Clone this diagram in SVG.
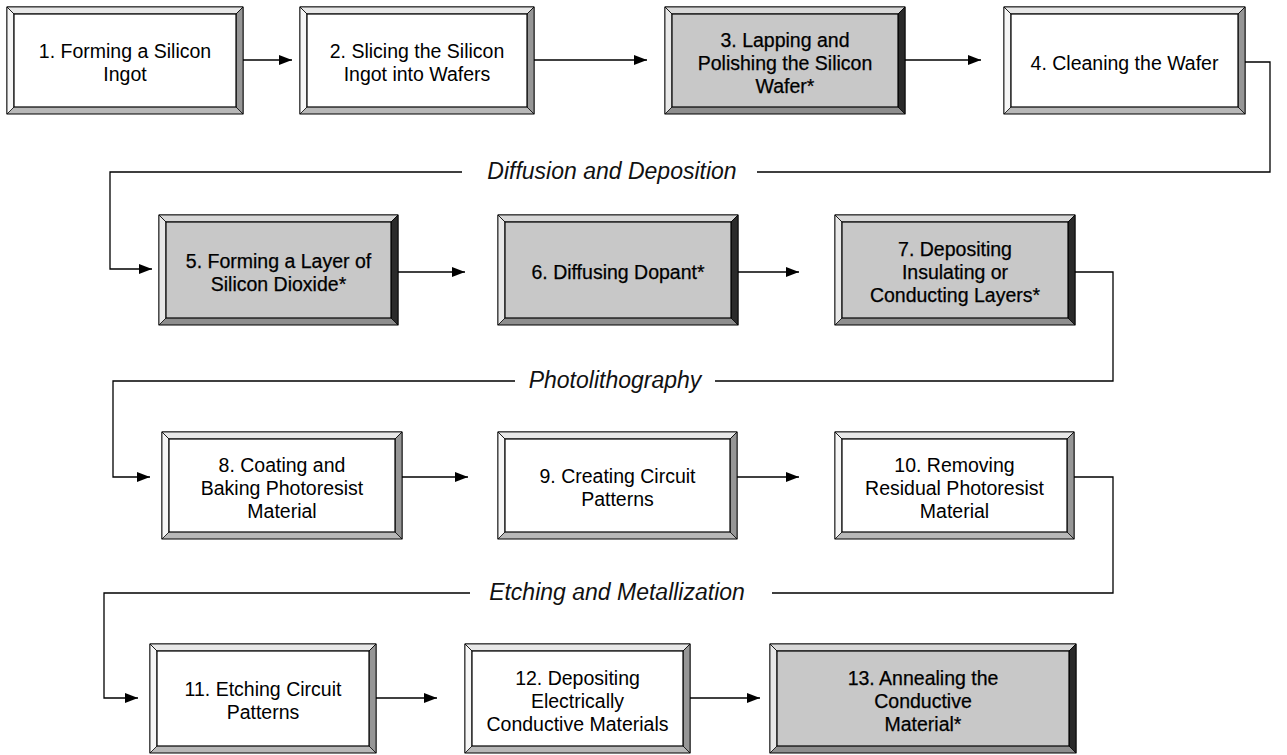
<svg xmlns="http://www.w3.org/2000/svg" width="1287" height="755" viewBox="0 0 1287 755">
<defs>
<marker id="arr" markerUnits="userSpaceOnUse" markerWidth="14" markerHeight="12" refX="13" refY="5" orient="auto"><path d="M0,0 L13,5 L0,10 z" fill="#000"/></marker>
<style>
.bg{fill:#fff}
.ob{stroke:#000;stroke-width:1}
.p .bot{fill:#b8b8b8}.p .top{fill:#e8e8e8}.p .lft{fill:#f6f6f6}.p .rgt{fill:#969696}.p .face{fill:#fff}
.s .bot{fill:#8e8e8e}.s .top{fill:#d8d8d8}.s .lft{fill:#e8e8e8}.s .rgt{fill:#2a2a2a}.s .face{fill:#c8c8c8}
.bev{stroke:#000;stroke-width:0.8;stroke-linejoin:miter}
.face{stroke:#000;stroke-width:1.2}
.t{font-family:"Liberation Sans",Arial,sans-serif;font-size:19.5px;fill:#000;text-anchor:middle}
.s .t{stroke:#000;stroke-width:0.25}
.lbl{font-family:"Liberation Sans",Arial,sans-serif;font-size:23px;font-style:italic;fill:#111;text-anchor:middle}
.c{fill:none;stroke:#000;stroke-width:1.3}
</style>
</defs>
<rect class="bg" x="0" y="0" width="1287" height="755"/>

<g id="connectors">
<path class="c" d="M243,60 H292" marker-end="url(#arr)"/>
<path class="c" d="M534,60 H647" marker-end="url(#arr)"/>
<path class="c" d="M905,60 H981" marker-end="url(#arr)"/>
<path class="c" d="M1245,62 H1270 V172 H757"/>
<path class="c" d="M462,172 H110 V269 H152" marker-end="url(#arr)"/>
<path class="c" d="M398,272 H465" marker-end="url(#arr)"/>
<path class="c" d="M738,272 H799" marker-end="url(#arr)"/>
<path class="c" d="M1075,272 H1113 V381 H715"/>
<path class="c" d="M515,381 H113 V477 H150" marker-end="url(#arr)"/>
<path class="c" d="M402,477 H468" marker-end="url(#arr)"/>
<path class="c" d="M737,477 H799" marker-end="url(#arr)"/>
<path class="c" d="M1074,477 H1113 V593 H772"/>
<path class="c" d="M470,593 H104 V698 H138" marker-end="url(#arr)"/>
<path class="c" d="M376,698 H437" marker-end="url(#arr)"/>
<path class="c" d="M690,698 H760" marker-end="url(#arr)"/>
<text class="lbl" x="612" y="179">Diffusion and Deposition</text>
<text class="lbl" x="615" y="388">Photolithography</text>
<text class="lbl" x="617" y="600">Etching and Metallization</text>
</g>

<g id="n1" class="p">
<rect class="bot ob" x="7" y="7" width="236" height="107"/>
<polygon class="top bev" points="7,7 243,7 236,14 14,14"/>
<polygon class="lft bev" points="7,7 14,14 14,107 7,114"/>
<polygon class="rgt bev" points="243,7 243,114 236,107 236,14"/>
<rect class="face" x="14" y="14" width="222" height="93"/>
<text class="t" x="125" y="58">1. Forming a Silicon</text>
<text class="t" x="125" y="81">Ingot</text>
</g>
<g id="n2" class="p">
<rect class="bot ob" x="300" y="7" width="234" height="107"/>
<polygon class="top bev" points="300,7 534,7 527,14 307,14"/>
<polygon class="lft bev" points="300,7 307,14 307,107 300,114"/>
<polygon class="rgt bev" points="534,7 534,114 527,107 527,14"/>
<rect class="face" x="307" y="14" width="220" height="93"/>
<text class="t" x="417" y="58">2. Slicing the Silicon</text>
<text class="t" x="417" y="81">Ingot into Wafers</text>
</g>
<g id="n3" class="s">
<rect class="bot ob" x="665" y="7" width="240" height="107"/>
<polygon class="top bev" points="665,7 905,7 898,14 672,14"/>
<polygon class="lft bev" points="665,7 672,14 672,107 665,114"/>
<polygon class="rgt bev" points="905,7 905,114 898,107 898,14"/>
<rect class="face" x="672" y="14" width="226" height="93"/>
<text class="t" x="785" y="46.5">3. Lapping and</text>
<text class="t" x="785" y="69.5">Polishing the Silicon</text>
<text class="t" x="785" y="92.5">Wafer*</text>
</g>
<g id="n4" class="p">
<rect class="bot ob" x="1004" y="7" width="241" height="107"/>
<polygon class="top bev" points="1004,7 1245,7 1238,14 1011,14"/>
<polygon class="lft bev" points="1004,7 1011,14 1011,107 1004,114"/>
<polygon class="rgt bev" points="1245,7 1245,114 1238,107 1238,14"/>
<rect class="face" x="1011" y="14" width="227" height="93"/>
<text class="t" x="1124.5" y="69.5">4. Cleaning the Wafer</text>
</g>

<g id="n5" class="s">
<rect class="bot ob" x="159" y="215" width="239" height="110"/>
<polygon class="top bev" points="159,215 398,215 391,222 166,222"/>
<polygon class="lft bev" points="159,215 166,222 166,318 159,325"/>
<polygon class="rgt bev" points="398,215 398,325 391,318 391,222"/>
<rect class="face" x="166" y="222" width="225" height="96"/>
<text class="t" x="278.5" y="267.5">5. Forming a Layer of</text>
<text class="t" x="278.5" y="290.5">Silicon Dioxide*</text>
</g>
<g id="n6" class="s">
<rect class="bot ob" x="498" y="215" width="240" height="110"/>
<polygon class="top bev" points="498,215 738,215 731,222 505,222"/>
<polygon class="lft bev" points="498,215 505,222 505,318 498,325"/>
<polygon class="rgt bev" points="738,215 738,325 731,318 731,222"/>
<rect class="face" x="505" y="222" width="226" height="96"/>
<text class="t" x="618" y="279">6. Diffusing Dopant*</text>
</g>
<g id="n7" class="s">
<rect class="bot ob" x="835" y="215" width="240" height="110"/>
<polygon class="top bev" points="835,215 1075,215 1068,222 842,222"/>
<polygon class="lft bev" points="835,215 842,222 842,318 835,325"/>
<polygon class="rgt bev" points="1075,215 1075,325 1068,318 1068,222"/>
<rect class="face" x="842" y="222" width="226" height="96"/>
<text class="t" x="955" y="256">7. Depositing</text>
<text class="t" x="955" y="279">Insulating or</text>
<text class="t" x="955" y="302">Conducting Layers*</text>
</g>

<g id="n8" class="p">
<rect class="bot ob" x="162" y="432" width="240" height="107"/>
<polygon class="top bev" points="162,432 402,432 395,439 169,439"/>
<polygon class="lft bev" points="162,432 169,439 169,532 162,539"/>
<polygon class="rgt bev" points="402,432 402,539 395,532 395,439"/>
<rect class="face" x="169" y="439" width="226" height="93"/>
<text class="t" x="282" y="471.5">8. Coating and</text>
<text class="t" x="282" y="494.5">Baking Photoresist</text>
<text class="t" x="282" y="517.5">Material</text>
</g>
<g id="n9" class="p">
<rect class="bot ob" x="498" y="432" width="239" height="107"/>
<polygon class="top bev" points="498,432 737,432 730,439 505,439"/>
<polygon class="lft bev" points="498,432 505,439 505,532 498,539"/>
<polygon class="rgt bev" points="737,432 737,539 730,532 730,439"/>
<rect class="face" x="505" y="439" width="225" height="93"/>
<text class="t" x="617.5" y="483">9. Creating Circuit</text>
<text class="t" x="617.5" y="506">Patterns</text>
</g>
<g id="n10" class="p">
<rect class="bot ob" x="835" y="432" width="239" height="107"/>
<polygon class="top bev" points="835,432 1074,432 1067,439 842,439"/>
<polygon class="lft bev" points="835,432 842,439 842,532 835,539"/>
<polygon class="rgt bev" points="1074,432 1074,539 1067,532 1067,439"/>
<rect class="face" x="842" y="439" width="225" height="93"/>
<text class="t" x="954.5" y="471.5">10. Removing</text>
<text class="t" x="954.5" y="494.5">Residual Photoresist</text>
<text class="t" x="954.5" y="517.5">Material</text>
</g>

<g id="n11" class="p">
<rect class="bot ob" x="150" y="644" width="226" height="109"/>
<polygon class="top bev" points="150,644 376,644 369,651 157,651"/>
<polygon class="lft bev" points="150,644 157,651 157,746 150,753"/>
<polygon class="rgt bev" points="376,644 376,753 369,746 369,651"/>
<rect class="face" x="157" y="651" width="212" height="95"/>
<text class="t" x="263" y="696">11. Etching Circuit</text>
<text class="t" x="263" y="719">Patterns</text>
</g>
<g id="n12" class="p">
<rect class="bot ob" x="465" y="644" width="225" height="109"/>
<polygon class="top bev" points="465,644 690,644 683,651 472,651"/>
<polygon class="lft bev" points="465,644 472,651 472,746 465,753"/>
<polygon class="rgt bev" points="690,644 690,753 683,746 683,651"/>
<rect class="face" x="472" y="651" width="211" height="95"/>
<text class="t" x="577.5" y="684.5">12. Depositing</text>
<text class="t" x="577.5" y="707.5">Electrically</text>
<text class="t" x="577.5" y="730.5">Conductive Materials</text>
</g>
<g id="n13" class="s">
<rect class="bot ob" x="770" y="644" width="306" height="109"/>
<polygon class="top bev" points="770,644 1076,644 1069,651 777,651"/>
<polygon class="lft bev" points="770,644 777,651 777,746 770,753"/>
<polygon class="rgt bev" points="1076,644 1076,753 1069,746 1069,651"/>
<rect class="face" x="777" y="651" width="292" height="95"/>
<text class="t" x="923" y="684.5">13. Annealing the</text>
<text class="t" x="923" y="707.5">Conductive</text>
<text class="t" x="923" y="730.5">Material*</text>
</g>
</svg>
